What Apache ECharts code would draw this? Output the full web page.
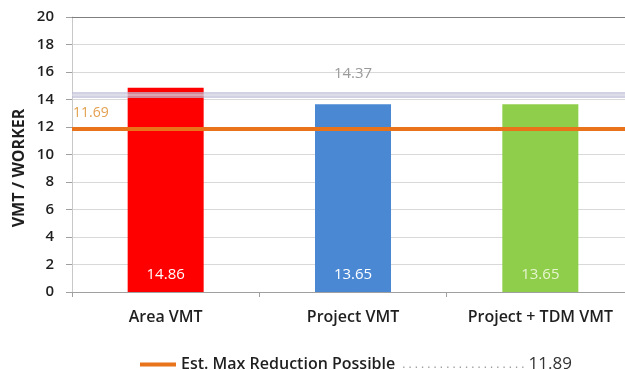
<!DOCTYPE html>
<html>
<head>
<meta charset="utf-8">
<script src="https://cdn.jsdelivr.net/npm/echarts@6/dist/echarts.min.js"></script>
<style>
html,body{margin:0;padding:0;background:#fff;overflow:hidden;width:625px;height:370px;}
#c{width:640px;height:370px;}
</style>
</head>
<body>
<div id="c"></div>
<script>
const categories = ['Area VMT', 'Project VMT', 'Project + TDM VMT'];
const vmtPerWorker = [14.86, 13.65, 13.65];
const thresholdValue = 14.37;
const maxReductionValue = 11.89;
const maxReductionLabel = '11.69';
const legendName = 'Est. Max Reduction Possible';
const yTicks = { min: 0, max: 20, interval: 2 };

const barColors = ['#ff0000', '#4a88d4', '#8fce4a'];
const labelColors = ['#ffffff', '#ffffff', '#e6f5d0'];
const FONT = '"Open Sans", "Noto Sans", sans-serif';

const chart = echarts.init(document.getElementById('c'), null, { renderer: 'canvas' });

const option = {
  backgroundColor: '#ffffff',
  animation: false,
  grid: { left: 72, top: 17, width: 562, height: 275, containLabel: false },
  legend: {
    data: [legendName],
    left: 135, top: 351,
    icon: 'rect', itemWidth: 36, itemHeight: 4,
    itemStyle: { color: '#e8731a' },
    formatter: function (name) {
      return '{n|' + name + '}{d|. . . . . . . . . . . . . . . . . . . .}{v|' + maxReductionValue.toFixed(2) + '}';
    },
    textStyle: {
      fontFamily: FONT,
      rich: {
        n: { fontSize: 16, fontWeight: 600, color: '#1f1f1f', fontFamily: FONT },
        d: { fontSize: 12, color: '#9a9a9a', fontFamily: FONT, padding: [0, 4, 0, 7] },
        v: { fontSize: 17, color: '#333333', fontFamily: FONT }
      }
    }
  },
  xAxis: [{
    type: 'category',
    data: categories,
    position: 'bottom',
    axisLine: { lineStyle: { color: '#a0a0a0', width: 1 } },
    axisTick: { show: true, length: 5, lineStyle: { color: '#a0a0a0' } },
    axisLabel: { interval: 0, hideOverlap: false, margin: 17, fontSize: 16, fontWeight: 600, color: '#1f1f1f', fontFamily: FONT },
    splitLine: { show: false }
  }, {
    type: 'category',
    data: categories,
    position: 'top',
    axisLine: { show: true, lineStyle: { color: '#7f7f7f', width: 1 } },
    axisTick: { show: false },
    axisLabel: { show: false }
  }],
  yAxis: {
    type: 'value',
    min: yTicks.min, max: yTicks.max, interval: yTicks.interval,
    axisLine: { show: true, lineStyle: { color: '#c8c8c8' } },
    axisTick: { show: true, length: 6, lineStyle: { color: '#a0a0a0' } },
    axisLabel: { margin: 18, fontSize: 15, fontWeight: 600, color: '#1f1f1f', fontFamily: FONT },
    splitLine: { show: true, lineStyle: { color: '#d9d9d9', width: 1 } }
  },
  graphic: [{
    type: 'text',
    x: 19, y: 168,
    rotation: Math.PI / 2,
    style: {
      text: 'VMT / WORKER',
      fontSize: 16, fontWeight: 'bold', fill: '#1f1f1f', fontFamily: FONT,
      textAlign: 'center', textVerticalAlign: 'middle'
    }
  }],
  series: [{
    type: 'bar',
    name: 'VMT',
    xAxisIndex: 0,
    barWidth: 76,
    data: vmtPerWorker.map(function (v, i) {
      return {
        value: v,
        itemStyle: { color: barColors[i] },
        label: { color: labelColors[i] }
      };
    }),
    label: {
      show: true, position: 'insideBottom', distance: 10,
      fontSize: 15, fontFamily: FONT,
      formatter: function (p) { return p.value.toFixed(2); }
    },
    markLine: {
      silent: true, symbol: 'none',
      data: [{
        yAxis: thresholdValue,
        lineStyle: { color: 'rgba(190,190,215,0.7)', width: 6, type: 'solid' },
        label: {
          show: true, position: 'insideMiddleTop', distance: 13,
          formatter: thresholdValue.toFixed(2),
          color: '#9a9a9a', fontSize: 15, fontFamily: FONT
        }
      }, {
        yAxis: thresholdValue,
        lineStyle: { color: 'rgba(255,255,255,0.35)', width: 1.5, type: 'solid' },
        label: { show: false }
      }]
    }
  }, {
    type: 'line',
    name: legendName,
    xAxisIndex: 0,
    data: [null, null, null],
    itemStyle: { color: '#e8731a' },
    lineStyle: { color: '#e8731a' },
    showSymbol: false,
    markLine: {
      silent: true, symbol: 'none',
      data: [{
        yAxis: maxReductionValue,
        lineStyle: { color: '#e8731a', width: 4, type: 'solid' },
        label: {
          show: true, position: 'insideStartTop', distance: [1, 8],
          formatter: maxReductionLabel,
          color: '#e3a04e', fontSize: 14, fontFamily: FONT
        }
      }]
    }
  }]
};

chart.setOption(option);
</script>
</body>
</html>
